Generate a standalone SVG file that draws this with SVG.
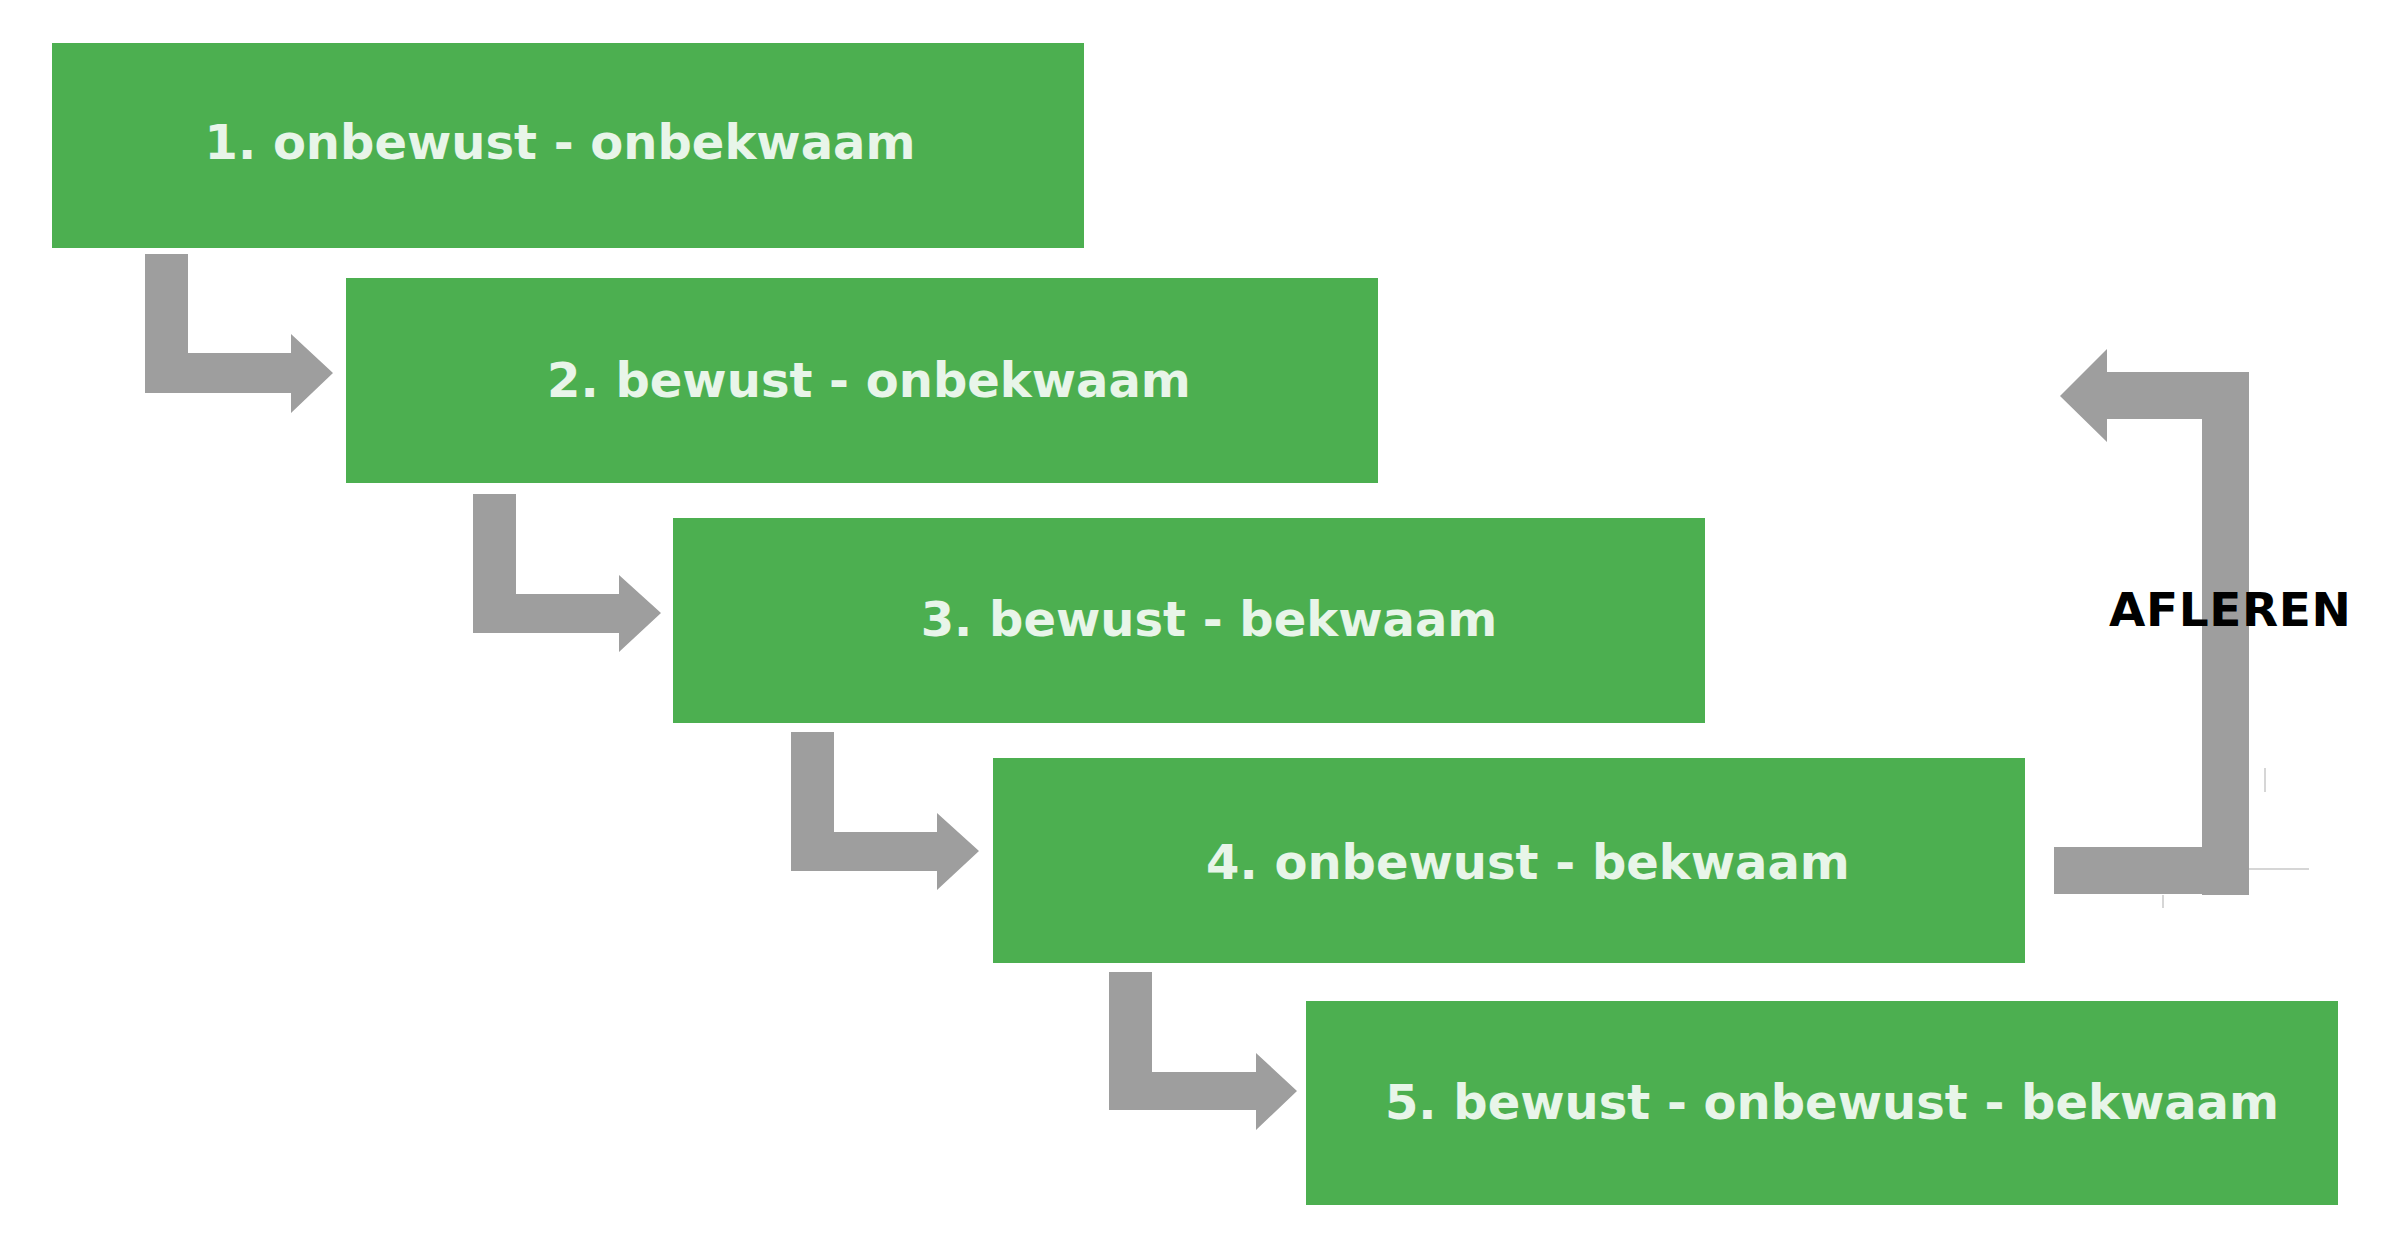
<svg xmlns="http://www.w3.org/2000/svg" width="2400" height="1240" viewBox="0 0 2400 1240">
  <style>
    .box { fill: #4CAF50; }
    .lbl { font-family: "DejaVu Sans", Verdana, sans-serif; font-weight: bold; font-size: 48px; fill: #E8F5E9; text-anchor: middle; }
    .arrow { fill: #9E9E9E; }
    .faint { stroke: #C8C8C8; stroke-width: 1.5; fill: none; }
    .side { font-family: "DejaVu Sans", Verdana, sans-serif; font-weight: bold; font-size: 47px; letter-spacing: 0.6px; fill: #000000; }
  </style>
  <rect width="2400" height="1240" fill="#FFFFFF"/>
  <g id="connectors">
    <path class="arrow" d="M145,254 H188 V353 H291 V334 L333,373 L291,413 V393 H145 Z"/>
    <path class="arrow" d="M473,494 H516 V594 H619 V575 L661,613 L619,652 V633 H473 Z"/>
    <path class="arrow" d="M791,732 H834 V832 H937 V813 L979,851 L937,890 V871 H791 Z"/>
    <path class="arrow" d="M1109,972 H1152 V1072 H1256 V1053 L1297,1091 L1256,1130 V1110 H1109 Z"/>
    <path class="arrow" d="M2054,847 H2202 V419 H2107 V442 L2060,396 L2107,349 V372 H2249 V895 H2202 V894 H2054 Z"/>
    <line class="faint" x1="2265" y1="768" x2="2265" y2="792"/>
    <line class="faint" x1="2249" y1="869" x2="2309" y2="869"/>
    <line class="faint" x1="2163" y1="895" x2="2163" y2="908"/>
  </g>
  <g id="node1">
    <rect class="box" x="52" y="43" width="1032" height="205"/>
    <text class="lbl" x="560" y="159">1. onbewust - onbekwaam</text>
  </g>
  <g id="node2">
    <rect class="box" x="346" y="278" width="1032" height="205"/>
    <text class="lbl" x="869" y="397">2. bewust - onbekwaam</text>
  </g>
  <g id="node3">
    <rect class="box" x="673" y="518" width="1032" height="205"/>
    <text class="lbl" x="1209" y="636">3. bewust - bekwaam</text>
  </g>
  <g id="node4">
    <rect class="box" x="993" y="758" width="1032" height="205"/>
    <text class="lbl" x="1528" y="879">4. onbewust - bekwaam</text>
  </g>
  <g id="node5">
    <rect class="box" x="1306" y="1001" width="1032" height="204"/>
    <text class="lbl" x="1832" y="1119">5. bewust - onbewust - bekwaam</text>
  </g>
  <g id="label-afleren">
    <text class="side" x="2109" y="626">AFLEREN</text>
  </g>
</svg>
